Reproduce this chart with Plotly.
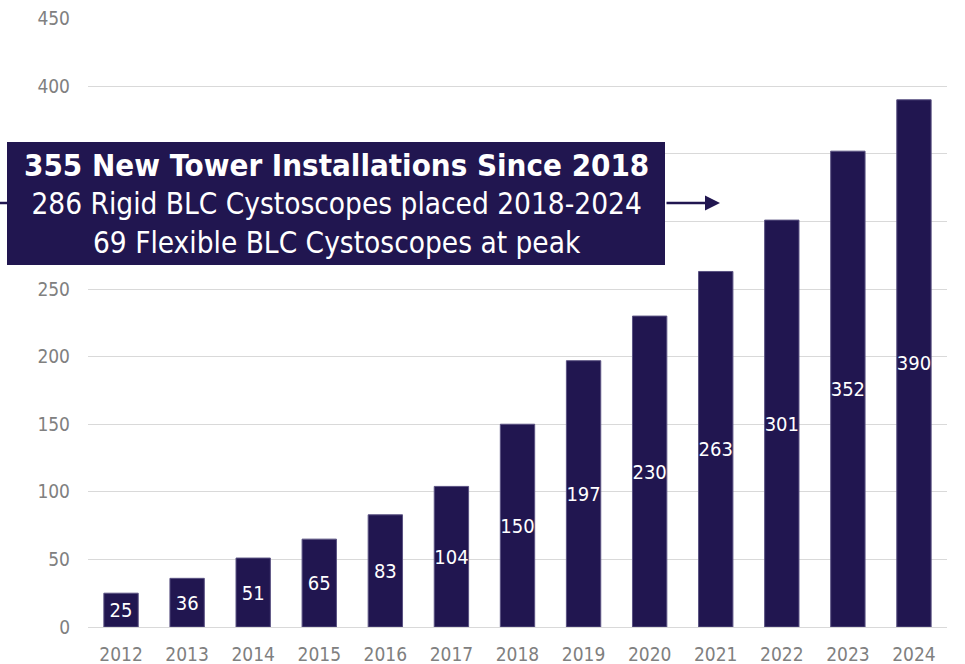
import plotly.graph_objects as go

years = ["2012", "2013", "2014", "2015", "2016", "2017", "2018",
         "2019", "2020", "2021", "2022", "2023", "2024"]
installs = [25, 36, 51, 65, 83, 104, 150, 197, 230, 263, 301, 352, 390]
y_ticks = [0, 50, 100, 150, 200, 250, 300, 350, 400, 450]
# 300 and 350 are hidden behind the callout box in the reference
y_ticktext = ["0", "50", "100", "150", "200", "250", "", "", "400", "450"]

callout_lines = ["355 New Tower Installations Since 2018",
                 "286 Rigid BLC Cystoscopes placed 2018-2024",
                 "69 Flexible BLC Cystoscopes at peak"]

NAVY = "#211650"
FONT = "DejaVu Sans Condensed"

fig = go.Figure()
fig.add_trace(go.Bar(
    x=years, y=installs,
    marker=dict(color=NAVY, line=dict(color="#5a5282", width=1)),
    text=[str(v) for v in installs],
    textposition="inside", insidetextanchor="middle",
    textangle=0,
    textfont=dict(color="white", size=20, family=FONT),
    width=0.52,
))

# callout box
x0, x1 = (7 - 88) / 859, (665 - 88) / 859
y0, y1 = (627 - 265) / 609, (627 - 142) / 609
ym = (627 - 203) / 609
fig.add_shape(type="rect", xref="paper", yref="paper", x0=x0, x1=x1, y0=y0, y1=y1,
              fillcolor=NAVY, line=dict(width=0), layer="above")
fig.add_shape(type="line", xref="paper", yref="paper", x0=-88 / 859, x1=x0, y0=ym, y1=ym,
              line=dict(color=NAVY, width=2.5), layer="above")
fig.add_annotation(xref="paper", yref="paper", x=(720 - 88) / 859, y=ym,
                   ax=-55, ay=0, axref="pixel", ayref="pixel",
                   showarrow=True, arrowhead=2, arrowsize=1.2, arrowwidth=2.5,
                   arrowcolor=NAVY, text="")
fig.add_annotation(xref="paper", yref="paper", x=(x0 + x1) / 2, y=(y0 + y1) / 2,
                   xanchor="center", yanchor="middle", showarrow=False,
                   text="<b><span style='font-size:31px'>" + callout_lines[0] + "</span></b><br>"
                        + callout_lines[1] + "<br>" + callout_lines[2],
                   font=dict(color="white", size=29.5, family=FONT), align="center")

fig.update_layout(
    width=965, height=664,
    margin=dict(l=88, r=18, t=18, b=37),
    paper_bgcolor="white", plot_bgcolor="white",
    showlegend=False,
    uniformtext=dict(minsize=20, mode="show"),
    font=dict(family=FONT, color="#808080", size=19),
)
fig.update_yaxes(range=[0, 450.5], tickvals=y_ticks, ticktext=y_ticktext,
                 showgrid=True, gridcolor="#d9d9d9",
                 gridwidth=1, zeroline=True, zerolinecolor="#d9d9d9", zerolinewidth=1,
                 showline=False, ticks="", ticklabelstandoff=17, automargin=False,
                 tickfont=dict(size=19, color="#808080", family=FONT))
fig.update_xaxes(showgrid=False, showline=False, ticks="", ticklabelstandoff=14,
                 automargin=False,
                 tickfont=dict(size=19, color="#808080", family=FONT))

fig.write_html("out.html")
